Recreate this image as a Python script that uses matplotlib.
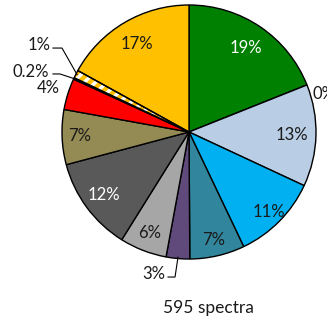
import numpy as np
import matplotlib
matplotlib.use('Agg')
import matplotlib.pyplot as plt

# Share of spectra per class, clockwise from 12 o'clock
shares = [19, 0, 13, 11, 7, 3, 6, 12, 7, 4, 0.2, 1, 17]
colors = ['#008000', '#B9CDE5', '#B9CDE5', '#00B0F0', '#31859C', '#604A7B',
          '#A6A6A6', '#595959', '#948A54', '#FF0000', '#31859C', '#FFC000',
          '#FFC000']
n_spectra = 595

# Label placement (fraction of radius) for the labels drawn inside the slices
inside_r = {0: 0.80, 2: 0.81, 3: 0.89, 4: 0.87, 6: 0.85, 7: 0.83, 8: 0.86, 12: 0.80}
white_text = {0, 7}
hatched = 11

plt.rcParams['font.family'] = ['Lato', 'DejaVu Sans']
plt.rcParams['hatch.linewidth'] = 2.5

fig = plt.figure(figsize=(3.27, 3.23), dpi=100)
ax = fig.add_axes([62 / 327, 64 / 323, 254 / 327, 254 / 323])

wedges, _ = ax.pie(shares, colors=colors, startangle=90, counterclock=False,
                   radius=1, wedgeprops=dict(edgecolor='black', linewidth=1))

# striped slice: white hatch on yellow, black outline on top
w = wedges[hatched]
w.set_edgecolor('white')
w.set_linewidth(0)
w.set_hatch('///')
ax.add_patch(matplotlib.patches.Wedge((0, 0), 1, w.theta1, w.theta2,
                                      facecolor='none', edgecolor='black', linewidth=1))


def label(v):
    return '%g%%' % v


def mid_dir(wd):
    a = np.deg2rad((wd.theta1 + wd.theta2) / 2)
    return np.cos(a), np.sin(a)


fs = 12
for i, r in inside_r.items():
    cx, cy = mid_dir(wedges[i])
    ax.text(cx * r, cy * r, label(shares[i]), ha='center', va='center', fontsize=fs,
            color='white' if i in white_text else '#1a1a1a')

# 4% label sits just outside the slice
cx, cy = mid_dir(wedges[9])
ax.text(cx * 1.16, cy * 1.16, label(shares[9]), ha='center', va='center',
        fontsize=fs, color='#1a1a1a')

# 0% label at the rim
ax.text(0.97, 0.30, label(shares[1]), ha='left', va='center', fontsize=fs, color='#1a1a1a')

# labels with leader lines: (slice, elbow, line start, text anchor)
callouts = [
    (11, (-1.00, 0.661), (-1.071, 0.661), (-1.09, 0.685)),
    (10, (-1.016, 0.457), (-1.071, 0.457), (-1.10, 0.475)),
    (5, (-0.110, -1.142), (-0.165, -1.142), (-0.19, -1.115)),
]
for i, elbow, start, txt in callouts:
    cx, cy = mid_dir(wedges[i])
    ax.plot([cx * 0.99, elbow[0], start[0]], [cy * 0.99, elbow[1], start[1]],
            color='black', linewidth=0.8, clip_on=False)
    ax.text(txt[0], txt[1], label(shares[i]), ha='right', va='center',
            fontsize=fs, color='#1a1a1a')

ax.text(0.15, -1.386, '%d spectra' % n_spectra, ha='center', va='center',
        fontsize=12.5, color='#1a1a1a')

ax.set_xlim(-1, 1)
ax.set_ylim(-1, 1)
ax.set_aspect('equal')
ax.axis('off')

fig.savefig('out.png', dpi=100)
